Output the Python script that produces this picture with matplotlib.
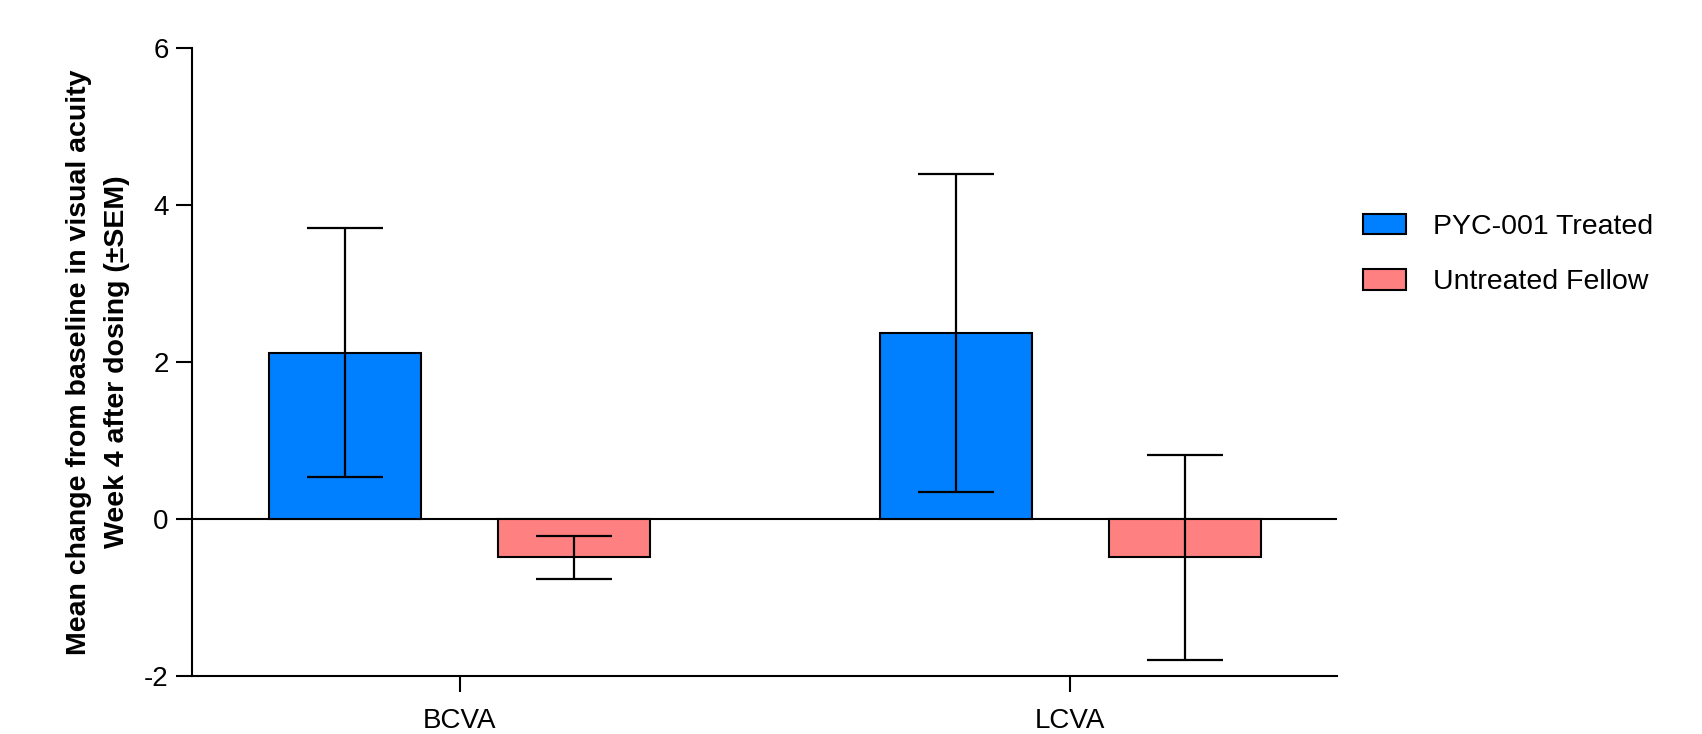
import matplotlib
matplotlib.use("Agg")
import matplotlib.pyplot as plt
from matplotlib.patches import Patch
import numpy as np

# ---- data ----
categories = ["BCVA", "LCVA"]
series_names = ["PYC-001 Treated", "Untreated Fellow"]
treated_mean = [2.12, 2.37]
treated_sem = [1.59, 2.02]
fellow_mean = [-0.49, -0.49]
fellow_sem = [0.27, 1.30]
y_ticks = [-2, 0, 2, 4, 6]
y_label = "Mean change from baseline in visual acuity\nWeek 4 after dosing (\u00b1SEM)"

colors = ["#0080FF", "#FF8080"]

plt.rcParams["font.family"] = ["Liberation Sans", "DejaVu Sans"]
plt.rcParams["axes.unicode_minus"] = False

W, H = 1702, 734
fig = plt.figure(figsize=(W / 100, H / 100), dpi=100)
ax = fig.add_axes([191.7 / W, 1 - 676 / H, (1337 - 191.7) / W, (676 - 48) / H])

x = np.arange(len(categories))
bw = 0.25
off = 0.1875
lw = 1.5
ekw = dict(ecolor="black", elinewidth=1.6, capthick=1.6, capsize=27.4, zorder=4)
ax.bar(x - off, treated_mean, bw, color=colors[0], edgecolor="black", linewidth=lw, zorder=3,
       label=series_names[0])
ax.bar(x + off, fellow_mean, bw, color=colors[1], edgecolor="black", linewidth=lw, zorder=3,
       label=series_names[1])
ax.errorbar(x - off, treated_mean, yerr=treated_sem, fmt="none", **ekw)
ax.errorbar(x + off, fellow_mean, yerr=fellow_sem, fmt="none", **ekw)
ax.axhline(0, color="black", linewidth=lw, zorder=2)

ax.set_xlim(-0.4386, 1.4365)
ax.set_ylim(-2, 6)
ax.set_yticks(y_ticks)
ax.set_yticklabels([str(t) for t in y_ticks])
ax.set_xticks(x)
ax.set_xticklabels(categories)
for s in ["top", "right"]:
    ax.spines[s].set_visible(False)
for s in ["left", "bottom"]:
    ax.spines[s].set_linewidth(lw)
ax.tick_params(axis="both", length=11.5, width=lw, labelsize=20, color="black")
ax.tick_params(axis="y", pad=5)
ax.tick_params(axis="x", pad=11.5)

fig.text(98 / W, 1 - 362 / H, y_label, rotation=90, ha="center", va="center",
         multialignment="center", fontsize=20.5, fontweight="bold", linespacing=1.55)

handles = [Patch(facecolor=colors[0], edgecolor="black", linewidth=lw),
           Patch(facecolor=colors[1], edgecolor="black", linewidth=lw)]
fs = 20.5
fspx = fs * 100 / 72
fig.legend(handles, series_names, loc="center left",
           bbox_to_anchor=(1362.7 / W, 1 - 254.5 / H), frameon=False, fontsize=fs,
           borderpad=0, borderaxespad=0, handlelength=43.3 / fspx, handleheight=21.3 / fspx,
           handletextpad=27 / fspx, labelspacing=1.02)

fig.savefig("out.png", dpi=100)
